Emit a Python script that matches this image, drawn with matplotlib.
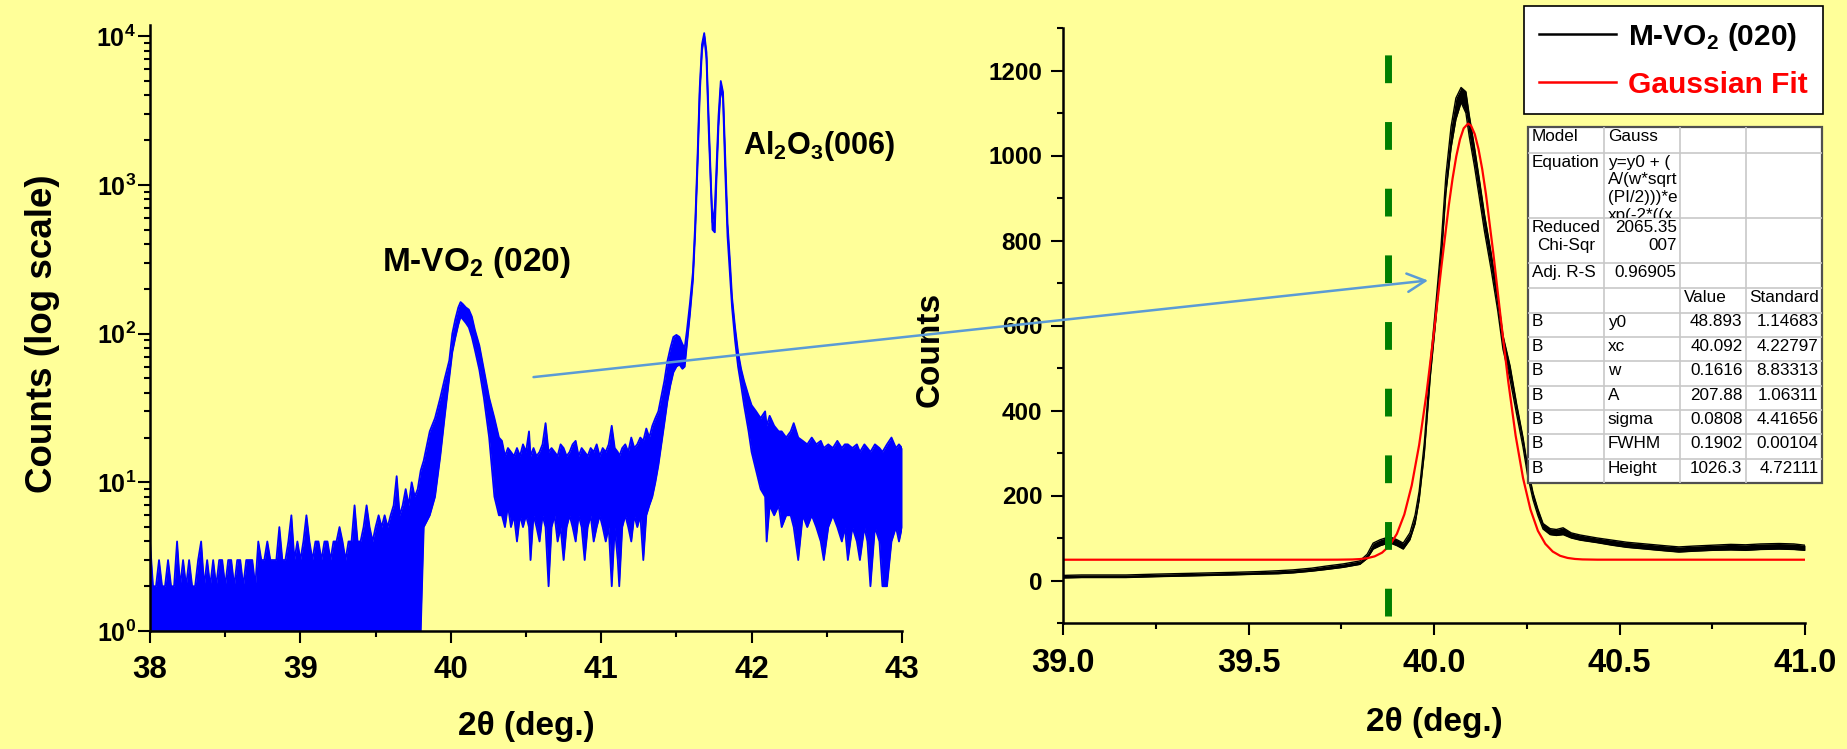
import numpy as np
import matplotlib
matplotlib.use('Agg')
import matplotlib.pyplot as plt
from matplotlib.patches import Rectangle, ConnectionPatch
from matplotlib.ticker import MultipleLocator, LogLocator, NullFormatter, FuncFormatter

plt.rcParams['font.family'] = ['Liberation Sans', 'DejaVu Sans']
plt.rcParams['mathtext.fontset'] = 'custom'
plt.rcParams['mathtext.rm'] = 'Liberation Sans:bold'
plt.rcParams['mathtext.bf'] = 'Liberation Sans:bold'
plt.rcParams['mathtext.it'] = 'Liberation Sans:bold:italic'

# ---------------- data ----------------
# left panel: wide scan, log counts (noise drawn as low/high envelope)
scan_a_2theta = np.round(np.arange(38.0, 39.801, 0.02), 2)
scan_a_high = [4, 2, 2, 3, 2, 2, 3, 2, 2, 4, 2, 3, 2, 3, 2, 2, 3, 4, 2, 3,
               2, 3, 2, 3, 3, 2, 3, 3, 2, 3, 3, 2, 3, 3, 3, 2, 4, 3, 3, 4,
               3, 3, 3, 5, 3, 3, 4, 6, 3, 4, 3, 4, 6, 4, 3, 4, 4, 3, 4, 4,
               3, 4, 4, 5, 4, 3, 4, 4, 7, 4, 4, 5, 7, 5, 4, 5, 6, 5, 6, 5,
               6, 7, 11, 6, 7, 9, 7, 10, 8, 9, 12]
scan_a_low = [1] * len(scan_a_high)

vo2_2theta = [39.82, 39.86, 39.895, 39.93, 39.96, 39.99, 40.01, 40.03, 40.05, 40.065,
              40.08, 40.10, 40.12, 40.14, 40.16, 40.19, 40.22, 40.255, 40.29, 40.32]
vo2_low = [5, 6, 8, 15, 28, 51, 75, 94, 115, 130, 125, 118, 110, 95, 78, 57, 37, 20, 8, 6]
vo2_high = [14, 22, 27, 37, 50, 66, 100, 125, 150, 163, 158, 150, 145, 130, 106, 83, 57, 37, 27, 20]

mid_2theta = [40.34, 40.36, 40.38, 40.40, 40.42, 40.44, 40.46, 40.48, 40.50, 40.52,
              40.53, 40.55, 40.57, 40.59, 40.61, 40.63, 40.65, 40.67, 40.69, 40.71,
              40.73, 40.75, 40.77, 40.79, 40.81, 40.83, 40.85, 40.87, 40.89, 40.91,
              40.93, 40.95, 40.97, 40.99, 41.01, 41.03, 41.05, 41.07, 41.09, 41.11,
              41.12, 41.14, 41.16, 41.18, 41.20, 41.22, 41.24, 41.26, 41.28, 41.30,
              41.32, 41.34, 41.36]
mid_low = [6, 5, 7, 5, 6, 4, 6, 5, 6, 5, 3, 6, 5, 4, 6, 5, 2, 5, 6, 4,
           5, 3, 5, 6, 5, 4, 6, 5, 3, 5, 6, 4, 5, 6, 5, 4, 5, 2, 5, 3,
           2, 5, 6, 5, 4, 6, 5, 6, 3, 6, 7, 8, 10]
mid_high = [19, 15, 17, 16, 15, 17, 15, 18, 16, 22, 15, 17, 15, 16, 18, 25, 16, 17, 16, 15,
            18, 17, 15, 16, 18, 19, 15, 17, 16, 15, 17, 16, 18, 15, 17, 16, 18, 24, 17, 16,
            15, 17, 18, 16, 20, 17, 18, 20, 19, 23, 20, 24, 27]

al2o3_2theta = [41.38, 41.40, 41.42, 41.44, 41.46, 41.48, 41.50, 41.52, 41.54, 41.555,
                41.57, 41.59, 41.61, 41.625, 41.64, 41.655, 41.67, 41.685, 41.70, 41.715,
                41.73, 41.74, 41.755, 41.765, 41.78, 41.795, 41.81, 41.825, 41.84, 41.855,
                41.87, 41.89, 41.91, 41.93, 41.95, 41.98]
al2o3_low = [13, 18, 25, 35, 45, 55, 60, 62, 58, 60, 85, 135, 230, 480, 1300, 4000, 8000, 10000, 7000, 2300,
             900, 500, 480, 1000, 2500, 4500, 3800, 1200, 450, 260, 150, 90, 60, 45, 33, 22]
al2o3_high = [30, 38, 48, 65, 80, 95, 98, 95, 85, 80, 105, 160, 260, 550, 1500, 4500, 8800, 10500, 7800, 2700,
              1000, 560, 700, 1200, 2900, 5000, 4200, 1500, 550, 320, 175, 110, 75, 58, 48, 38]

tail_2theta = [42.00, 42.03, 42.06, 42.09, 42.10, 42.12, 42.15, 42.18, 42.20, 42.23,
               42.26, 42.28, 42.31, 42.34, 42.37, 42.40, 42.43, 42.46, 42.48, 42.51,
               42.54, 42.57, 42.60, 42.62, 42.64, 42.67, 42.70, 42.72, 42.75, 42.77,
               42.79, 42.82, 42.85, 42.87, 42.90, 42.93, 42.96, 42.98, 43.00]
tail_low = [16, 12, 9, 8, 4, 7, 6, 7, 5, 6, 6, 5, 3, 6, 5, 6, 5, 4, 3, 5,
            6, 5, 4, 5, 3, 5, 4, 3, 5, 4, 2, 5, 4, 2, 2, 4, 5, 4, 5]
tail_high = [33, 30, 27, 30, 24, 28, 24, 22, 22, 20, 22, 25, 20, 19, 18, 20, 18, 19, 17, 18,
             17, 19, 17, 18, 18, 17, 18, 16, 18, 17, 16, 18, 17, 16, 18, 20, 17, 18, 17]

# right panel: zoom on M-VO2 (020), linear counts
zoom_2theta = [39.00, 39.05, 39.10, 39.17, 39.25, 39.30, 39.35, 39.40, 39.45, 39.53,
               39.58, 39.62, 39.67, 39.71, 39.755, 39.80, 39.82, 39.836, 39.855, 39.88,
               39.90, 39.917, 39.935, 39.949, 39.96, 39.974, 39.99, 40.005, 40.019, 40.032,
               40.046, 40.059, 40.073, 40.086, 40.095, 40.109, 40.122, 40.136, 40.154, 40.172,
               40.186, 40.205, 40.223, 40.24, 40.253, 40.267, 40.28, 40.294, 40.313, 40.33,
               40.348, 40.37, 40.394, 40.44, 40.48, 40.52, 40.57, 40.62, 40.66, 40.70,
               40.75, 40.80, 40.84, 40.88, 40.93, 40.97, 41.00]
zoom_low = [6, 7, 7, 7, 9, 10, 11, 12, 13, 15, 16, 18, 22, 26, 31, 38, 52, 74, 82, 89,
            82, 74, 96, 134, 190, 300, 480, 615, 752, 912, 1018, 1085, 1125, 1100, 1045, 975, 902, 822, 732, 634,
            544, 473, 390, 314, 244, 190, 153, 121, 108, 106, 108, 100, 95, 89, 83, 78, 74, 70, 67, 69,
            71, 72, 71, 73, 74, 73, 71]
zoom_high = [12, 13, 13, 13, 15, 16, 17, 18, 19, 21, 23, 25, 29, 34, 39, 46, 62, 88, 96, 103,
             96, 88, 112, 154, 210, 325, 510, 650, 788, 952, 1068, 1135, 1160, 1150, 1095, 1020, 945, 862, 770, 668,
             576, 505, 414, 336, 264, 206, 168, 134, 122, 120, 124, 112, 107, 100, 95, 90, 86, 82, 79, 81,
             83, 85, 84, 86, 87, 86, 83]

fit_2theta = [39.00, 39.70, 39.74, 39.78, 39.80, 39.82, 39.84, 39.86, 39.88, 39.90,
              39.92, 39.94, 39.96, 39.98, 40.00, 40.02, 40.04, 40.05, 40.06, 40.07,
              40.08, 40.092, 40.10, 40.11, 40.12, 40.13, 40.14, 40.16, 40.18, 40.20,
              40.22, 40.24, 40.26, 40.28, 40.30, 40.32, 40.34, 40.36, 40.38, 40.40,
              40.44, 41.00]
fit_counts = [48.9, 48.9, 49.0, 49.5, 50.4, 52.5, 56.8, 65.5, 81.7, 109.9,
              155.4, 223.9, 319.1, 441.5, 585.6, 738.9, 883.3, 945.4, 997.8, 1037.9,
              1064, 1075.2, 1070, 1050, 1015, 967.8, 909, 769, 616, 469,
              341, 241, 167, 117, 86.3, 68.1, 58.1, 53.1, 50.7, 49.6,
              49.0, 48.9]

marker_2theta = 39.875
marker_span = (-84, 1260)

# fit report table
fit_model = 'Gauss'
fit_equation = 'y=y0 + (\nA/(w*sqrt\n(PI/2)))*e\nxp(-2*((x'
fit_chi2 = '2065.35\n007'
fit_adj_r2 = '0.96905'
param_names = ['y0', 'xc', 'w', 'A', 'sigma', 'FWHM', 'Height']
param_values = ['48.893', '40.092', '0.1616', '207.88', '0.0808', '0.1902', '1026.3']
param_errors = ['1.14683', '4.22797', '8.83313', '1.06311', '4.41656', '0.00104', '4.72111']

# ---------------- figure ----------------
BG = '#FFFF99'
W, H = 1847, 749
fig = plt.figure(figsize=(W / 100, H / 100), dpi=100, facecolor=BG)

left_2theta = np.concatenate([scan_a_2theta, vo2_2theta, mid_2theta, al2o3_2theta, tail_2theta])
left_low = np.concatenate([scan_a_low, vo2_low, mid_low, al2o3_low, tail_low])
left_high = np.concatenate([scan_a_high, vo2_high, mid_high, al2o3_high, tail_high])

ax1 = fig.add_axes([150 / W, 1 - 631 / H, 752 / W, 606 / H], facecolor=BG)
ax1.fill_between(left_2theta, left_low, left_high, color='#0000FF', lw=0)
ax1.plot(left_2theta, left_high, color='#0000FF', lw=1.3)
ax1.plot(left_2theta, left_low, color='#0000FF', lw=1.3)
ax1.set_yscale('log')
ax1.set_xlim(38, 43)
ax1.set_ylim(1, 1.19e4)
ax1.xaxis.set_major_locator(MultipleLocator(1))
ax1.xaxis.set_minor_locator(MultipleLocator(0.5))
ax1.yaxis.set_major_locator(LogLocator(base=10, numticks=10))
ax1.yaxis.set_minor_locator(LogLocator(base=10, subs=np.arange(2, 10), numticks=10))
ax1.yaxis.set_minor_formatter(NullFormatter())
ax1.yaxis.set_major_formatter(FuncFormatter(lambda v, p: r'$\mathbf{10^{%d}}$' % round(np.log10(v))))
ax1.tick_params(axis='x', which='major', labelsize=22.5, pad=9)
ax1.tick_params(axis='y', which='major', labelsize=18, pad=1.5)

ax1.text(39.545, 263, r'M-VO$_\mathbf{2}$ (020)', fontsize=24, fontweight='bold', ha='left', va='baseline')
ax1.text(41.94, 1610, r'Al$_\mathbf{2}$O$_\mathbf{3}$(006)', fontsize=22, fontweight='bold', ha='left', va='baseline')
ax1.set_xlabel('2θ (deg.)', fontsize=24, fontweight='bold', va='center')
ax1.set_ylabel('Counts (log scale)', fontsize=26.5, fontweight='bold', va='center')
ax1.xaxis.set_label_coords(0.5, -0.158)
ax1.yaxis.set_label_coords(-0.143, 0.49)

ax2 = fig.add_axes([1063 / W, 1 - 623 / H, 742 / W, 595 / H], facecolor=BG)
ax2.fill_between(zoom_2theta, zoom_low, zoom_high, color='black', lw=0)
h_data, = ax2.plot(zoom_2theta, zoom_high, color='black', lw=1.0)
ax2.plot(zoom_2theta, zoom_low, color='black', lw=1.0)
h_fit, = ax2.plot(fit_2theta, fit_counts, color='#FF0000', lw=1.6)
ax2.vlines(marker_2theta, marker_span[0], marker_span[1], colors='#007F00', lw=5,
           linestyles=(0, (4, 5.6)), zorder=4)
ax2.set_xlim(39, 41)
ax2.set_ylim(-100, 1300)
ax2.xaxis.set_major_locator(MultipleLocator(0.5))
ax2.xaxis.set_minor_locator(MultipleLocator(0.25))
ax2.xaxis.set_major_formatter(FuncFormatter(lambda v, p: '%.1f' % v))
ax2.yaxis.set_major_locator(MultipleLocator(200))
ax2.yaxis.set_minor_locator(MultipleLocator(100))
ax2.tick_params(axis='x', which='major', labelsize=23.5, pad=9.5)
ax2.tick_params(axis='y', which='major', labelsize=17.5, pad=6.5)
ax2.set_xlabel('2θ (deg.)', fontsize=24, fontweight='bold', va='center')
ax2.set_ylabel('Counts', fontsize=24, fontweight='bold', va='center')
ax2.xaxis.set_label_coords(0.5, -0.168)
ax2.yaxis.set_label_coords(-0.179, 0.46)

for ax in (ax1, ax2):
    for s in ('top', 'right'):
        ax.spines[s].set_visible(False)
    for s in ('left', 'bottom'):
        ax.spines[s].set_linewidth(1.8)
    ax.tick_params(which='major', direction='out', length=8.5, width=1.5)
    ax.tick_params(which='minor', direction='out', length=4.5, width=1.5)
    for lab in ax.get_xticklabels() + ax.get_yticklabels():
        lab.set_fontweight('bold')

# arrow from the wide scan to the zoomed peak
arrow = ConnectionPatch(xyA=(40.55, 51), coordsA=ax1.transData,
                        xyB=(39.984, 706), coordsB=ax2.transData,
                        arrowstyle='->,head_length=0.65,head_width=0.33',
                        mutation_scale=20, color='#5B9BD5', lw=1.8)
fig.add_artist(arrow)

# legend
leg = fig.legend(handles=[h_data, h_fit], labels=[r'M-VO$_\mathbf{2}$ (020)', 'Gaussian Fit'],
                 loc='upper right', bbox_to_anchor=(1823 / W, 1 - 6 / H), borderaxespad=0,
                 frameon=True, fancybox=False, edgecolor='black', facecolor='white', framealpha=1,
                 prop={'weight': 'bold', 'size': 21.5}, handlelength=2.6, handletextpad=0.4,
                 borderpad=0.5, labelspacing=0.6)
leg.get_frame().set_linewidth(1.2)
leg.get_texts()[1].set_color('#FF0000')
for h in leg.legend_handles:
    h.set_linewidth(1.8)

# fit report table
tw, th = 294, 356
tax = fig.add_axes([1528 / W, 1 - 483 / H, tw / W, th / H])
tax.set_xlim(0, tw)
tax.set_ylim(th, 0)
tax.axis('off')
cols = [0, 76.2, 152.1, 218.1, tw]
rows = [0, 25.5, 91.1, 135.8, 160.6, 185.5]
rows += [185.5 + (th - 185.5) / 7 * i for i in range(1, 8)]
tax.add_patch(Rectangle((0, 0), tw, th, facecolor='white', edgecolor='none'))
for c in cols[1:-1]:
    tax.plot([c, c], [0, th], color='#C8C8C8', lw=1.2)
for r in rows[1:-1]:
    tax.plot([0, tw], [r, r], color='#C8C8C8', lw=1.2)
tax.add_patch(Rectangle((0, 0), tw, th, facecolor='none', edgecolor='#505050', lw=1.6, clip_on=False))

fs = 12.3
pad = 3.5


def cell(txt, r, c, ha='left', **kw):
    if ha == 'left':
        x = cols[c] + pad
    elif ha == 'right':
        x = cols[c + 1] - pad
    else:
        x = (cols[c] + cols[c + 1]) / 2
    return tax.text(x, rows[r] + 2, txt, ha=ha, va='top', fontsize=fs, multialignment=ha,
                    linespacing=1.24, **kw)


cell('Model', 0, 0)
cell(fit_model, 0, 1)
cell('Equation', 1, 0)
eq = cell(fit_equation, 1, 1, clip_on=True)
eq.set_clip_path(Rectangle((cols[1], rows[1]), cols[2] - cols[1], rows[2] - rows[1], transform=tax.transData))
cell('Reduced\nChi-Sqr', 2, 0, ha='center')
cell(fit_chi2, 2, 1, ha='right')
cell('Adj. R-S', 3, 0)
cell(fit_adj_r2, 3, 1, ha='right')
cell('Value', 4, 2)
cell('Standard', 4, 3)
for i, (n, v, e) in enumerate(zip(param_names, param_values, param_errors)):
    cell('B', 5 + i, 0)
    cell(n, 5 + i, 1)
    cell(v, 5 + i, 2, ha='right')
    cell(e, 5 + i, 3, ha='right')

fig.savefig('out.png', dpi=100, facecolor=BG)
